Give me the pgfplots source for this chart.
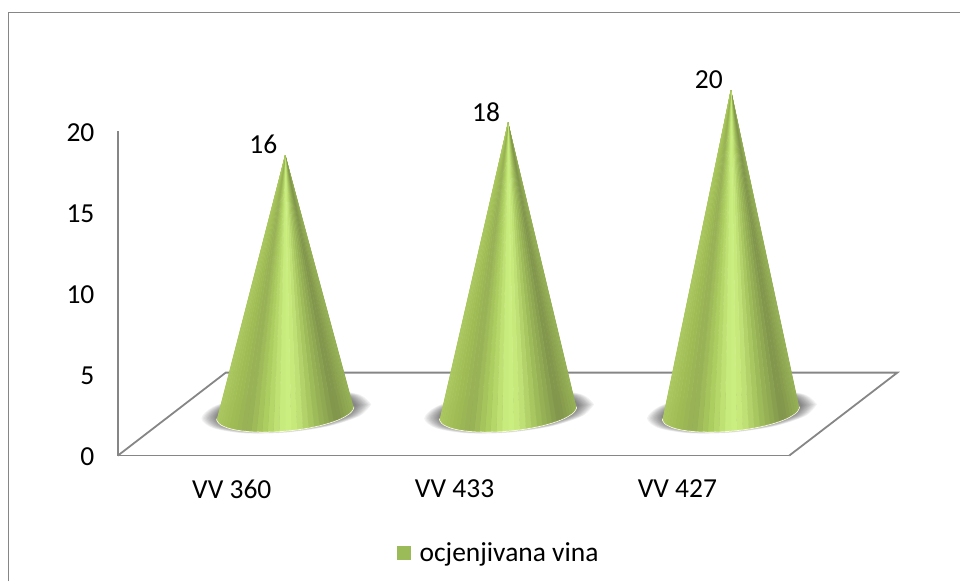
\documentclass[border=0pt]{standalone}
\usepackage{fontspec}
\setmainfont{Carlito}
\usepackage{pgfplots}
\usepackage{pgfplotstable}
\pgfplotsset{compat=1.18}
\definecolor{axgray}{RGB}{134,134,134}
\definecolor{legcol}{RGB}{155,187,89}
% base arc of one cone (offsets from the cone axis); last row is the tip (y = 2.5 + value)
\pgfplotstableread{
x y h
0.305 3.015 0
0.304 2.917 0
0.300 2.817 0
0.295 2.715 0
0.287 2.614 0
0.276 2.512 0
0.264 2.412 0
0.250 2.312 0
0.234 2.217 0
0.216 2.124 0
0.196 2.034 0
0.175 1.950 0
0.153 1.871 0
0.129 1.798 0
0.104 1.731 0
0.079 1.671 0
0.053 1.619 0
0.027 1.574 0
0.000 1.538 0
-0.027 1.510 0
-0.053 1.491 0
-0.079 1.481 0
-0.104 1.479 0
-0.129 1.486 0
-0.153 1.501 0
-0.175 1.526 0
-0.196 1.560 0
-0.216 1.602 0
-0.234 1.651 0
-0.250 1.708 0
-0.264 1.772 0
-0.276 1.844 0
-0.287 1.920 0
-0.295 2.003 0
-0.300 2.091 0
-0.304 2.181 0
-0.305 2.277 0
0.000 2.500 1
}\verts
\def\conn{37 0 1 1.000\\ 37 1 2 .996\\ 37 2 3 .988\\ 37 3 4 .977\\ 37 4 5 .962\\ 37 5 6 .943\\ 37 6 7 .922\\ 37 7 8 .896\\ 37 8 9 .869\\ 37 9 10 .838\\ 37 10 11 .805\\ 37 11 12 .769\\ 37 12 13 .731\\ 37 13 14 .691\\ 37 14 15 .650\\ 37 15 16 .608\\ 37 16 17 .565\\ 37 17 18 .522\\ 37 18 19 .478\\ 37 19 20 .435\\ 37 20 21 .392\\ 37 21 22 .350\\ 37 22 23 .309\\ 37 23 24 .269\\ 37 24 25 .231\\ 37 25 26 .195\\ 37 26 27 .162\\ 37 27 28 .131\\ 37 28 29 .104\\ 37 29 30 .078\\ 37 30 31 .057\\ 37 31 32 .038\\ 37 32 33 .023\\ 37 33 34 .012\\ 37 34 35 .004\\ 37 35 36 .000\\}
% shadow outline
\pgfplotstableread{
x y
0.305 0.369
0.264 -0.234
0.153 -0.775
0.000 -1.108
-0.153 -1.145
-0.264 -0.874
-0.305 -0.369
-0.264 0.234
-0.153 0.775
0.000 1.108
0.153 1.145
0.264 0.874
0.305 0.369
}\shad
\pgfplotstableread{
x y v
0.24 18.5 16
1.24 20.5 18
2.24 22.5 20
}\tips
\newcommand{\cone}[2]{%
  \pgfplotsinvokeforeach{1.25,1.23,1.21,1.19,1.17,1.15,1.13,1.11,1.09,1.07,1.05,1.03}{%
    \addplot[smooth, forget plot, draw=none, fill=black, fill opacity=0.05]
      table[x expr=\thisrow{x}*##1+#1+0.005, y expr=\thisrow{y}*(1+(##1-1)*0.7)+2.72] {\shad};
  }
  \addplot[forget plot, draw=white!90!yellow, line width=2pt, skip coords between index={37}{38}]
    table[x expr=\thisrow{x}+#1, y expr=\thisrow{y}+\thisrow{h}*#2] {\verts};
  \addplot[forget plot, patch, patch type=triangle, shader=flat, line width=0.4pt, table/row sep=\\,
    patch table with point meta/.expand once=\conn]
    table[x expr=\thisrow{x}+#1, y expr=\thisrow{y}+\thisrow{h}*#2] {\verts};
}
\begin{document}
\begin{tikzpicture}
\begin{axis}[
  name=ax, scale only axis, width=672pt, height=325pt,
  xmin=-0.511, xmax=2.502, ymin=0, ymax=20, clip=false,
  axis x line*=bottom, axis y line*=left,
  axis line style={draw=axgray, line width=1.8pt, -},
  xtick={0,1,2}, xticklabels={VV 360,VV 433,VV 427},
  ytick={0,5,10,15,20},
  tick style={draw=none},
  tick label style={font=\fontsize{27.5}{32}\selectfont},
  yticklabel style={xshift=-20pt, yshift=-1.5pt},
  xticklabel style={yshift=-21pt},
  /pgf/number format/assume math mode=true,
  point meta min=0, point meta max=1,
  colormap={conemap}{
    rgb255(0cm)=(170,200,95);
    rgb255(10cm)=(160,190,85);
    rgb255(22cm)=(150,175,85);
    rgb255(35cm)=(172,205,95);
    rgb255(50cm)=(205,240,130);
    rgb255(58cm)=(198,232,122);
    rgb255(72cm)=(160,190,90);
    rgb255(88cm)=(128,148,75);
    rgb255(100cm)=(150,178,85)
  },
  legend style={draw=none, fill=none, at={(0.411,-0.299)}, anchor=west,
    font=\fontsize{27.5}{32}\selectfont},
  legend cell align=left,
]
\addlegendimage{only marks, mark=square*, mark size=6.8pt, color=legcol}
\addlegendentry{\hspace{7pt}ocjenjivana vina}
% floor
\addplot[forget plot, draw=axgray, line width=1.8pt]
  coordinates {(-0.511,0) (-0.027,5.108) (2.987,5.108) (2.502,0)};
\cone{0.24}{16}
\cone{1.24}{18}
\cone{2.24}{20}
% value labels
\addplot[forget plot, only marks, mark=none, point meta=\thisrow{v},
  nodes near coords, nodes near coords style={anchor=center, xshift=-22pt, yshift=11pt,
    font=\fontsize{27.5}{32}\selectfont, text=black}]
  table[x=x, y=y] {\tips};
\end{axis}
\draw[axgray, line width=1.8pt] (ax.south west) ++(-109.5pt,-113.5pt) ++(0,-12.5pt)
  -- ++(0,569.5pt) -- ++(952.5pt,0);
\path (ax.south west) ++(-118pt,-126pt) rectangle ++(961pt,582pt);
\end{tikzpicture}
\end{document}
